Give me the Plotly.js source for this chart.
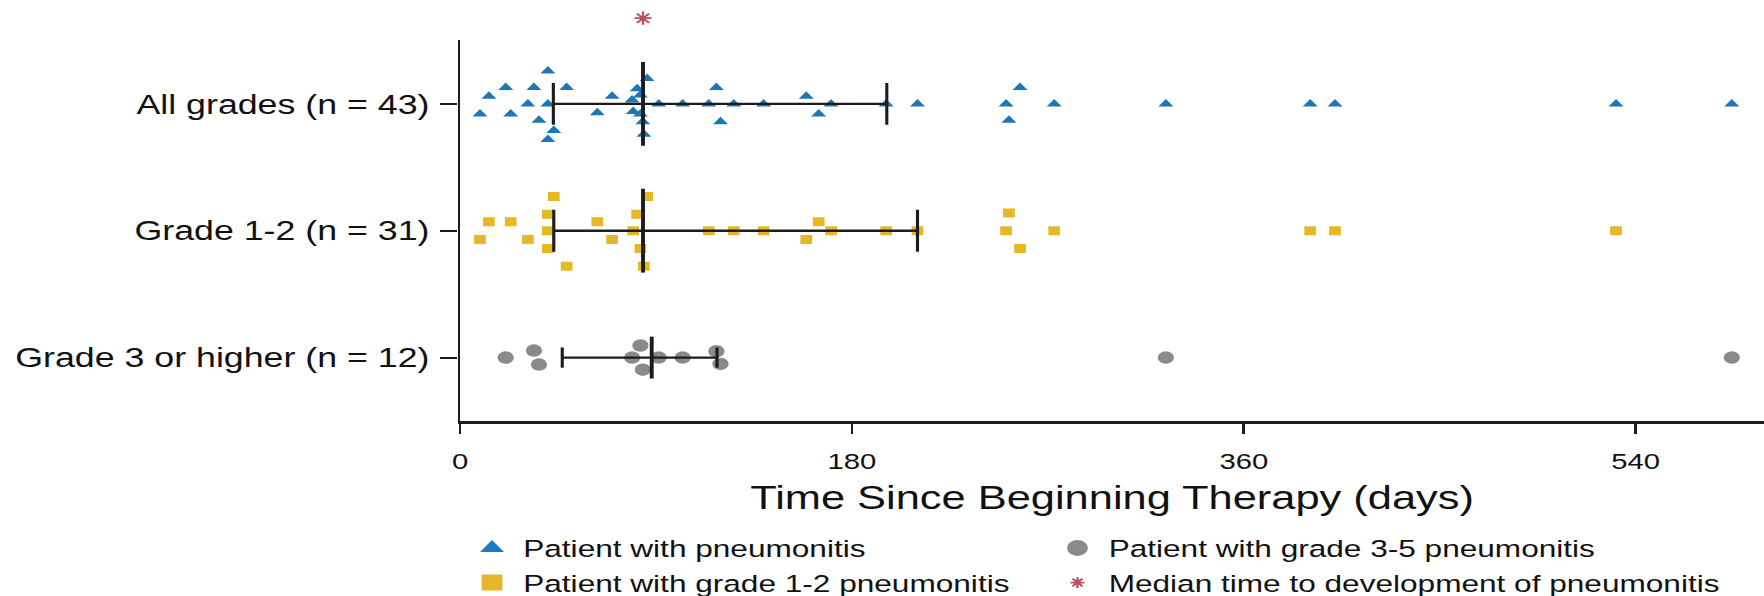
<!DOCTYPE html>
<html>
<head>
<meta charset="utf-8">
<script src="https://cdn.plot.ly/plotly-3.0.1.min.js"></script>
<style>
  html, body { margin: 0; padding: 0; background: #fff; overflow: hidden; }
  #wrap { width: 1764px; height: 596px; overflow: hidden; position: relative; }
  /* the figure is laid out narrower and widened horizontally */
  #chart { width: 1357px; height: 596px; transform: scaleX(1.29993); transform-origin: 0 0; }
</style>
</head>
<body>
<div id="wrap"><div id="chart"></div></div>
<script>
// Row labels and axis ticks
const rowLabels = ['All grades (n = 43)', 'Grade 1-2 (n = 31)', 'Grade 3 or higher (n = 12)'];
const xTicks = [0, 180, 360, 540];

// Onset of pneumonitis (days since start of therapy), one value per patient
const allGradesDays = [9.1, 13.2, 20.9, 23.2, 31.1, 33.9, 36.2, 40.3, 40.3, 40.3, 43.0, 48.9, 63.0, 69.8,
  79.0, 79.5, 81.3, 82.8, 82.8, 83.9, 84.4, 85.9, 91.2, 102.2, 114.2, 117.7, 119.6, 125.7, 139.4,
  159.0, 164.7, 170.4, 195.7, 210.1, 250.8, 252.1, 257.2, 272.9, 324.2, 390.5, 401.9, 531.0, 584.2];
const grade12Days = [9.1, 13.2, 23.2, 31.1, 40.3, 40.3, 40.3, 43.0, 48.9, 63.0, 69.8, 79.5, 81.3,
  85.9, 82.8, 84.4, 114.2, 125.7, 139.4, 159.0, 164.7, 170.4, 195.7, 210.1, 252.1, 250.8, 257.2,
  272.9, 390.5, 401.9, 531.0];
const grade3Days = [20.9, 33.9, 36.2, 79.0, 82.8, 83.9, 91.2, 102.2, 117.7, 119.6, 324.2, 584.2];

// Swarm spread of each point around its row (fraction of a row)
const allGradesSpread = [0.08, -0.06, -0.13, 0.08, 0, -0.13, 0.13, -0.26, 0.28, 0, 0.21, -0.13, 0.07, -0.06,
  -0.03, 0.06, -0.12, -0.07, 0.08, 0.14, 0.24, -0.2, 0, 0, 0, -0.13, 0.14, 0, 0,
  -0.06, 0.08, 0, 0, 0, 0, 0.13, -0.13, 0, 0, 0, 0, 0, 0];
const grade12Spread = [0.07, -0.07, -0.07, 0.07, -0.13, 0, 0.14, -0.27, 0.28, -0.07, 0.07, 0, -0.13,
  -0.27, 0.14, 0.28, 0, 0, 0, 0.07, -0.07, 0, 0, 0, -0.14, 0, 0.14,
  0, 0, 0, 0];
const grade3Spread = [0, -0.055, 0.055, 0, -0.095, 0.095, 0, 0, -0.05, 0.05, 0, 0];

// Median and interquartile range per row (days)
const medianDays = [84, 84, 88];
const iqrLowDays = [42.8, 43, 46.9];
const iqrHighDays = [196, 210.1, 118];

// Half heights of the whisker caps and median bars (rows)
const capHalf = [0.165, 0.165, 0.08];
const medianHalf = [0.33, 0.33, 0.165];

const blue = '#1f76b6', gold = '#e6b824', grey = '#8a8a8a', rose = '#b8505f', ink = '#1c1c1c';

function rowY(row, spread) { return spread.map(s => row + s); }

// Whisker paths built from the summary arrays
const iqrX = [], iqrY = [], medX = [], medY = [];
for (let r = 0; r < 3; r++) {
  iqrX.push(iqrLowDays[r], iqrHighDays[r], null,
            iqrLowDays[r], iqrLowDays[r], null,
            iqrHighDays[r], iqrHighDays[r], null);
  iqrY.push(r, r, null,
            r - capHalf[r], r + capHalf[r], null,
            r - capHalf[r], r + capHalf[r], null);
  medX.push(medianDays[r], medianDays[r], null);
  medY.push(r - medianHalf[r], r + medianHalf[r], null);
}

const traces = [
  { type: 'scatter', mode: 'markers', x: allGradesDays, y: rowY(0, allGradesSpread), showlegend: false,
    marker: { symbol: 'triangle-up', size: 10, color: blue }, hoverinfo: 'x' },
  { type: 'scatter', mode: 'markers', x: grade12Days, y: rowY(1, grade12Spread), showlegend: false,
    marker: { symbol: 'square', size: 9, color: gold }, hoverinfo: 'x' },
  { type: 'scatter', mode: 'markers', x: grade3Days, y: rowY(2, grade3Spread), showlegend: false,
    marker: { symbol: 'circle', size: 12.5, color: grey }, hoverinfo: 'x' },
  { type: 'scatter', mode: 'lines', x: iqrX, y: iqrY, showlegend: false,
    line: { color: ink, width: 2.4 }, hoverinfo: 'skip' },
  { type: 'scatter', mode: 'lines', x: medX, y: medY, showlegend: false,
    line: { color: ink, width: 3 }, hoverinfo: 'skip' },
  // overall median onset, drawn in the band above the rows
  { type: 'scatter', mode: 'markers', x: [medianDays[0]], y: [0.55], yaxis: 'y2', showlegend: false,
    marker: { symbol: 'asterisk-open', size: 11, color: rose, line: { color: rose, width: 1.8 } }, hoverinfo: 'x' },
  // legend entries, two columns
  { type: 'scatter', mode: 'markers', x: [null], y: [null], name: 'Patient with pneumonitis', legend: 'legend',
    marker: { symbol: 'triangle-up', size: 16, color: '#1a7ac2' } },
  { type: 'scatter', mode: 'markers', x: [null], y: [null], name: 'Patient with grade 1-2 pneumonitis', legend: 'legend',
    marker: { symbol: 'square', size: 16, color: '#e7b52c' } },
  { type: 'scatter', mode: 'markers', x: [null], y: [null], name: 'Patient with grade 3-5 pneumonitis', legend: 'legend2',
    marker: { symbol: 'circle', size: 16, color: grey } },
  { type: 'scatter', mode: 'markers', x: [null], y: [null], name: 'Median time to development of pneumonitis', legend: 'legend2',
    marker: { symbol: 'asterisk-open', size: 9, color: rose, line: { color: rose, width: 1.8 } } }
];

const legendBase = {
  orientation: 'v', xref: 'paper', yref: 'container', xanchor: 'left', yanchor: 'top', y: 0.118,
  font: { size: 24.3, color: '#111' }, itemwidth: 38, bgcolor: 'rgba(0,0,0,0)', borderwidth: 0,
  traceorder: 'normal'
};

const layout = {
  width: 1357, height: 596,
  margin: { l: 353.5, r: 0, t: 0, b: 174.5, pad: 0 },
  paper_bgcolor: '#fff', plot_bgcolor: 'rgba(0,0,0,0)',
  font: { family: 'Liberation Sans, Arial, sans-serif', color: '#111' },
  showlegend: true,
  hovermode: 'closest',
  xaxis: {
    range: [0, 599], tickvals: xTicks, ticktext: xTicks.map(String),
    ticks: 'outside', ticklen: 10, tickwidth: 2, tickcolor: ink,
    showline: true, linecolor: ink, linewidth: 2.6,
    showgrid: false, zeroline: false, automargin: false,
    tickfont: { size: 22.5 }, ticklabelstandoff: 8,
    title: { text: 'Time Since Beginning Therapy (days)', font: { size: 33.4 }, standoff: 13 }
  },
  yaxis: {
    domain: [0, 0.9039],
    range: [2.5, -0.5], tickvals: [0, 1, 2], ticktext: rowLabels,
    ticks: 'outside', ticklen: 13, tickwidth: 2.4, tickcolor: ink,
    showline: true, linecolor: ink, linewidth: 2.3,
    showgrid: false, zeroline: false, automargin: false,
    tickfont: { size: 27.5 }, ticklabelstandoff: 3
  },
  yaxis2: { domain: [0.9039, 1], range: [0, 1], anchor: 'x', visible: false, fixedrange: true },
  legend: Object.assign({}, legendBase, { x: 0.0005 }),
  legend2: Object.assign({}, legendBase, { x: 0.4495 })
};

Plotly.newPlot('chart', traces, layout, { displayModeBar: false });
</script>
</body>
</html>
